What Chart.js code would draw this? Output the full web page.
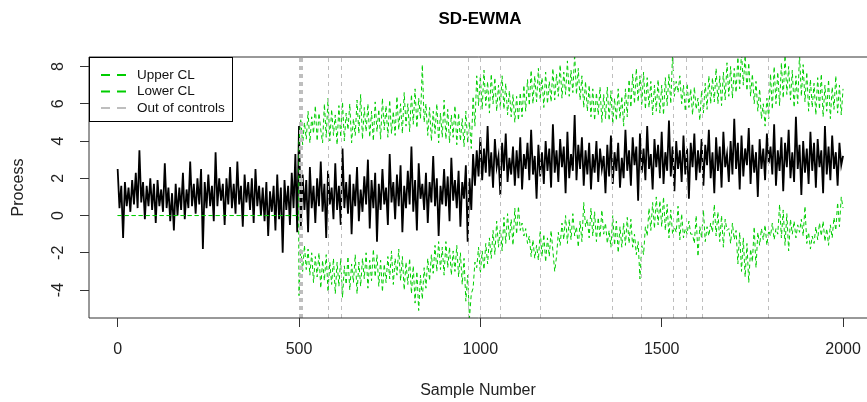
<!DOCTYPE html>
<html>
<head>
<meta charset="utf-8">
<script src="https://cdn.jsdelivr.net/npm/chart.js@4.4.1/dist/chart.umd.min.js"></script>
<style>
  html, body { margin: 0; padding: 0; background: #fff; }
  #wrap { width: 867px; height: 402px; }
</style>
</head>
<body>
<div id="wrap"><canvas id="grafica" width="867" height="402"></canvas></div>
<script>
// valores (una muestra de cada 5)
const sampleStep = 5;

// proceso, muestras 0..495
const procPhase1 = [
  2.5, 0.4, 1.6, -1.2, 1.8, 0.5, 1.5, 0.2, 1.9, 0.6, 2.3, 0.4, 3.5, 0.7, 1.8, -0.2, 1.6, 0.5, 2.0, 0.3,
  1.7, -0.4, 1.9, 0.5, 1.4, 0.2, 2.8, 0.4, 1.5, -0.3, 1.2, -0.8, 1.7, 0.0, 1.5, 0.3, 2.3, -0.2, 1.4, 0.4,
  2.9, 0.5, 1.7, 0.1, 2.0, 0.6, 2.5, -1.8, 1.8, 0.4, 2.2, 0.5, 1.6, -0.3, 3.4, 0.5, 2.0, 0.8, 1.7, -0.5,
  2.0, 0.6, 2.6, 0.4, 1.7, 0.1, 2.9, 0.6, 1.6, -0.6, 2.2, 0.7, 1.8, 0.3, 2.0, -0.4, 2.5, 0.5, 1.6, 0.0,
  1.5, -0.3, 1.8, -1.1, 1.3, 0.2, 1.6, -0.8, 2.2, -0.2, 1.5, -2.0, 1.9, 0.3, 1.6, -0.5, 2.3, 0.4, 3.3, -0.9
];
// proceso, muestras 500..995
const procPhase2 = [
  4.8, -0.6, 2.2, 0.3, 1.9, -0.9, 2.6, 0.4, 1.6, -0.4, 2.0, 0.5, 2.9, 0.2, 1.7, -1.2, 2.4, 0.6, 1.5, -0.2,
  2.8, 0.3, 1.6, -0.5, 3.6, 0.4, 1.8, 0.1, 2.2, -1.0, 1.7, 0.5, 2.6, -0.3, 1.4, 0.2, 2.1, 0.6, 3.0, -0.7,
  1.9, 0.4, 2.3, -1.4, 1.7, 0.3, 2.5, 0.6, 1.5, -0.5, 3.3, 0.7, 1.8, -0.2, 2.2, 0.5, 2.7, -0.9, 1.6, 0.4,
  2.4, 0.6, 3.7, 0.2, 1.9, -0.8, 2.8, 0.9, 1.7, 0.3, 2.3, -0.4, 1.8, 0.7, 3.2, 0.5, 2.0, -1.1, 1.6, 0.6,
  2.5, 0.5, 2.1, -0.3, 3.1, 0.8, 1.9, 0.4, 2.4, -0.6, 1.8, 0.9, 2.7, -1.4, 2.0, 0.3, 3.3, 1.6, 3.5, 2.1
];
// proceso, muestras 1000..2000
const procPhase3 = [
  4.2, 1.9, 3.6, 2.3, 4.8, 2.1, 3.4, 1.5, 4.1, 2.6, 3.2, 1.1, 3.9, 2.4, 4.4, 1.8, 3.1, 2.2, 3.7, 1.6,
  3.5, 2.0, 4.2, 1.4, 3.3, 2.5, 3.9, 1.9, 4.6, 2.2, 3.2, 0.9, 3.8, 2.1, 3.4, 1.7, 4.0, 2.4, 3.6, 1.5,
  4.9, 2.3, 3.5, 1.8, 4.1, 2.6, 3.7, 1.2, 4.5, 2.0, 3.3, 2.4, 5.4, 1.9, 3.8, 2.5, 4.2, 1.6, 3.5, 2.2,
  3.9, 1.4, 3.3, 2.3, 4.0, 1.8, 3.6, 2.5, 3.2, 1.2, 3.8, 2.1, 4.3, 1.7, 3.4, 2.4, 3.9, 1.5, 3.1, 2.0,
  4.6, 2.4, 3.5, 1.6, 4.2, 2.7, 3.7, 0.8, 4.4, 2.3, 3.6, 1.9, 4.8, 2.5, 3.3, 1.4, 4.1, 2.6, 3.8, 2.0,
  4.5, 1.7, 3.4, 2.4, 5.1, 2.1, 3.7, 1.3, 4.0, 2.5, 3.5, 1.8, 4.3, 2.2, 3.6, 0.9, 3.9, 2.6, 4.4, 1.9,
  3.5, 2.3, 4.1, 1.6, 3.8, 2.7, 4.6, 2.0, 3.4, 1.2, 4.2, 2.4, 3.7, 1.5, 4.5, 2.6, 3.3, 1.8, 4.0, 2.2,
  5.2, 2.5, 3.9, 1.4, 4.3, 2.1, 3.6, 2.7, 4.7, 1.7, 3.8, 2.3, 3.4, 1.0, 4.1, 2.5, 3.6, 1.9, 4.4, 2.8,
  3.7, 2.2, 4.9, 1.6, 3.5, 2.4, 4.2, 1.3, 3.9, 2.6, 4.6, 2.0, 3.4, 1.8, 5.3, 2.5, 3.8, 1.1, 4.0, 2.3,
  3.6, 1.7, 4.5, 2.4, 3.9, 1.5, 4.1, 2.6, 3.5, 1.2, 4.8, 2.2, 3.7, 1.9, 4.3, 2.5, 3.4, 1.6, 3.9, 2.7,
  3.2
];

// limites antes del cambio (muestras 0 y 499)
const baselineCL = [0, 0];
// limite superior, muestras 500..995
const upperCL1 = [
  4.0, 5.2, 3.8, 5.0, 4.1, 5.6, 3.9, 5.3, 4.4, 5.9, 4.0, 5.5, 4.6, 3.9, 6.0, 4.2, 6.3, 4.0, 5.7, 4.3,
  5.4, 3.8, 5.9, 4.2, 6.1, 4.0, 5.5, 4.6, 6.0, 3.9, 5.2, 4.3, 6.2, 4.4, 6.5, 4.1, 5.8, 4.5, 6.0, 4.2,
  5.6, 4.0, 6.1, 4.5, 5.7, 4.1, 6.3, 4.6, 5.9, 4.2, 6.2, 4.4, 5.6, 4.3, 6.4, 4.6, 6.0, 4.4, 6.6, 4.8,
  6.0, 4.5, 6.5, 4.9, 6.8, 4.7, 6.3, 5.2, 8.1, 5.0, 6.0, 4.3, 5.8, 4.0, 5.6, 4.4, 6.0, 3.9, 5.5, 4.2,
  6.2, 4.1, 5.7, 3.9, 5.4, 4.2, 5.9, 3.8, 5.5, 4.0, 5.2, 3.7, 5.6, 3.9, 5.0, 3.6, 6.4, 4.8, 7.5, 5.9
];
// limite superior, muestras 1000..2000
const upperCL2 = [
  7.5, 5.7, 7.8, 5.9, 7.2, 5.5, 7.6, 6.0, 7.4, 5.6, 7.0, 5.8, 7.5, 5.7, 7.1, 5.4, 6.7, 5.3, 6.5, 5.0,
  6.4, 5.1, 6.6, 5.3, 7.0, 5.6, 7.3, 5.9, 7.8, 6.0, 7.5, 6.1, 7.9, 6.2, 7.4, 5.8, 7.7, 6.0, 7.2, 6.1,
  7.9, 6.2, 7.6, 6.4, 8.1, 6.3, 7.7, 6.5, 8.3, 6.4, 7.8, 6.6, 8.7, 6.5, 7.9, 6.2, 7.5, 5.8, 7.2, 5.6,
  7.0, 5.3, 6.8, 5.1, 6.6, 5.4, 6.9, 5.0, 6.5, 5.2, 6.9, 5.1, 6.7, 4.9, 6.3, 5.1, 6.8, 5.2, 6.4, 4.8,
  6.8, 5.3, 7.3, 5.8, 7.6, 6.0, 7.9, 6.1, 7.5, 5.9, 7.7, 5.7, 7.4, 5.8, 7.2, 5.4, 7.0, 5.6, 7.3, 5.5,
  7.0, 5.4, 7.4, 5.9, 7.6, 6.0, 8.7, 6.4, 7.2, 6.6, 7.5, 6.0, 7.0, 5.6, 7.1, 5.8, 6.8, 5.4, 6.9, 5.7,
  6.3, 5.1, 6.7, 5.5, 7.1, 5.7, 7.5, 6.0, 7.4, 6.1, 7.9, 6.0, 7.5, 5.9, 7.7, 6.2, 8.2, 6.4, 8.0, 6.3,
  7.9, 6.6, 8.5, 6.8, 8.8, 7.0, 8.6, 6.7, 8.2, 6.4, 7.6, 6.0, 7.2, 5.6, 6.8, 5.2, 6.0, 4.8, 6.3, 5.2,
  7.6, 5.7, 8.0, 6.0, 7.7, 5.9, 8.2, 6.3, 8.6, 6.5, 8.0, 6.2, 7.8, 5.8, 7.5, 6.0, 8.7, 6.4, 8.1, 6.1,
  7.7, 5.6, 7.3, 5.8, 7.1, 5.4, 7.4, 5.7, 7.6, 5.3, 7.0, 5.6, 7.3, 5.2, 6.9, 5.7, 7.5, 5.5, 7.0, 5.4,
  6.8
];
// limite inferior, muestras 500..995
const lowerCL1 = [
  -4.3, -1.8, -3.0, -1.6, -2.9, -1.8, -3.2, -2.0, -3.6, -2.2, -3.3, -2.0, -3.9, -2.4, -3.5, -2.1, -4.1, -2.5, -3.7, -2.3,
  -4.2, -2.5, -3.8, -2.3, -4.4, -2.7, -3.7, -2.2, -4.0, -2.6, -3.6, -2.1, -4.2, -2.5, -3.8, -2.3, -3.4, -2.0, -3.9, -2.4,
  -3.5, -1.8, -3.3, -2.1, -3.8, -2.4, -4.1, -2.6, -3.6, -2.2, -3.4, -1.9, -3.7, -2.3, -3.2, -1.8, -3.5, -2.2, -4.0, -2.5,
  -3.7, -2.3, -4.2, -2.7, -4.7, -3.0, -5.1, -3.2, -4.5, -2.8, -3.9, -2.3, -3.5, -2.1, -3.1, -1.6, -3.0, -1.4, -2.9, -1.7,
  -3.2, -1.4, -2.8, -1.7, -3.2, -1.9, -3.0, -1.6, -3.3, -2.0, -3.7, -2.3, -4.6, -3.2, -5.5, -4.2, -3.9, -2.5, -2.8, -1.7
];
// limite inferior, muestras 1000..2000
const lowerCL2 = [
  -3.1, -1.9, -2.9, -1.5, -2.6, -1.2, -2.3, -0.8, -2.1, -0.3, -1.7, -0.6, -1.9, -0.1, -1.5, 0.1, -1.3, -0.2, -1.6, 0.4,
  -1.0, 0.5, -0.8, -0.4, -1.1, -0.7, -1.5, -1.1, -2.2, -1.3, -2.3, -1.6, -2.4, -0.8, -2.2, -1.0, -2.5, -1.2, -2.2, -0.8,
  -1.9, -3.0, -2.2, -0.9, -1.6, -0.4, -1.3, 0.0, -1.5, -0.2, -1.3, 0.1, -1.1, -0.6, -1.7, -0.3, -1.4, 0.7, -0.6, -0.2,
  -1.2, 0.4, -1.1, 0.2, -1.4, -0.1, -1.2, 0.3, -1.0, -0.4, -1.5, -0.8, -1.7, 0.0, -1.6, -0.3, -2.0, -0.6, -1.7, -0.4,
  -1.6, -0.1, -1.5, -0.2, -1.7, -1.0, -2.1, -1.4, -3.4, -1.6, -2.1, -0.6, -1.1, 0.4, -0.8, 0.7, -0.7, 1.0, -0.5, 0.8,
  -0.6, 1.0, -0.8, 0.6, -1.2, 0.3, -1.0, -0.6, -0.9, 0.5, -1.3, 0.1, -1.2, -0.7, -1.0, -0.3, -1.0, -1.0, -1.5, 0.0,
  -2.2, -0.6, -1.2, 0.3, -1.4, -0.6, -1.1, -0.4, -0.9, 0.6, -1.1, 0.2, -1.4, 0.0, -1.7, -0.2, -0.8, -0.7, -1.5, -0.4,
  -1.3, -0.8, -2.6, -0.9, -3.0, -1.2, -3.3, -1.5, -3.6, -1.8, -2.5, -0.6, -2.8, -0.9, -1.6, -0.7, -1.3, -0.5, -1.6, -0.8,
  -1.1, -0.4, -1.3, -0.7, -1.0, 0.6, -1.2, 0.3, -1.6, 0.1, -1.9, -0.2, -1.0, -0.3, -1.2, -0.5, -0.9, -0.2, -1.1, 0.5,
  -1.5, -0.9, -1.8, -1.1, -1.5, -0.6, -1.3, -0.4, -1.1, -0.3, -1.4, -0.7, -1.6, -0.5, -1.2, -0.1, -0.8, 0.7, -0.6, 1.0,
  0.4
];

// muestras fuera de control
const outOfControl = [501, 503, 505, 507, 579, 617, 966, 1000, 1055, 1165, 1364, 1443, 1532, 1567, 1611, 1793];

const xTicks = [0, 500, 1000, 1500, 2000];
const yTicks = [-4, -2, 0, 2, 4, 6, 8];

const colorCL = '#00cd00';
const colorOOC = '#bebebe';
const fuente = "'Liberation Sans', Arial, sans-serif";

function aPuntos(valores, inicio, paso) {
  return valores.map((v, i) => ({ x: inicio + i * paso, y: v }));
}

const puntosProceso = [
  ...aPuntos(procPhase1, 0, sampleStep),
  ...aPuntos(procPhase2, 500, sampleStep),
  ...aPuntos(procPhase3, 1000, sampleStep)
];
const puntosUpper = [
  ...aPuntos(baselineCL, 0, 499),
  ...aPuntos(upperCL1, 500, sampleStep),
  ...aPuntos(upperCL2, 1000, sampleStep)
];
const puntosLower = [
  ...aPuntos(baselineCL, 0, 499),
  ...aPuntos(lowerCL1, 500, sampleStep),
  ...aPuntos(lowerCL2, 1000, sampleStep)
];

// marco, lineas fuera de control, etiquetas del eje y, titulo y leyenda al estilo R
const estiloR = {
  id: 'estiloR',
  afterDatasetsDraw(chart) {
    const { ctx, chartArea: a, scales: { x } } = chart;
    ctx.save();
    ctx.beginPath();
    ctx.rect(a.left, a.top, a.right - a.left, a.bottom - a.top);
    ctx.clip();
    ctx.strokeStyle = colorOOC;
    ctx.lineWidth = 1;
    ctx.setLineDash([4, 4]);
    outOfControl.forEach(c => {
      const px = Math.round(x.getPixelForValue(c)) + 0.5;
      ctx.beginPath();
      ctx.moveTo(px, a.bottom);
      ctx.lineTo(px, a.top);
      ctx.stroke();
    });
    ctx.restore();
  },
  afterDraw(chart) {
    const { ctx, chartArea: a, scales: { y } } = chart;
    ctx.save();

    // marco (el borde derecho queda fuera de la imagen)
    ctx.strokeStyle = '#333';
    ctx.lineWidth = 1;
    ctx.beginPath();
    ctx.moveTo(a.right + 5, a.top);
    ctx.lineTo(a.left, a.top);
    ctx.lineTo(a.left, a.bottom);
    ctx.lineTo(a.right + 5, a.bottom);
    ctx.stroke();

    // etiquetas del eje y giradas
    ctx.fillStyle = '#222';
    ctx.font = '16px ' + fuente;
    ctx.textAlign = 'center';
    ctx.textBaseline = 'middle';
    yTicks.forEach(v => {
      ctx.save();
      ctx.translate(59, y.getPixelForValue(v));
      ctx.rotate(-Math.PI / 2);
      ctx.fillText(String(v), 0, 0);
      ctx.restore();
    });

    // titulo centrado sobre el area de trazado
    ctx.fillStyle = '#000';
    ctx.font = 'bold 17px ' + fuente;
    ctx.fillText('SD-EWMA', 480, 19);

    // leyenda
    const lx = a.left, ly = a.top, lw = 144, lh = 65;
    ctx.fillStyle = '#fff';
    ctx.fillRect(lx, ly, lw, lh);
    ctx.strokeStyle = '#000';
    ctx.strokeRect(lx + 0.5, ly + 0.5, lw - 1, lh - 1);
    const items = [['Upper CL', colorCL], ['Lower CL', colorCL], ['Out of controls', colorOOC]];
    ctx.font = '13.5px ' + fuente;
    ctx.textAlign = 'left';
    items.forEach(([txt, col], i) => {
      const ry = ly + 18 + i * 16.5;
      ctx.strokeStyle = col;
      ctx.lineWidth = 2;
      ctx.setLineDash([9, 7]);
      ctx.beginPath();
      ctx.moveTo(lx + 12, ry);
      ctx.lineTo(lx + 38, ry);
      ctx.stroke();
      ctx.setLineDash([]);
      ctx.fillStyle = '#111';
      ctx.fillText(txt, lx + 48, ry);
    });
    ctx.restore();
  }
};

const ctx = document.getElementById('grafica').getContext('2d');
new Chart(ctx, {
  type: 'line',
  data: {
    datasets: [
      {
        label: 'Upper CL',
        data: puntosUpper,
        borderColor: colorCL,
        borderWidth: 1,
        borderDash: [4, 3],
        pointRadius: 0,
        tension: 0
      },
      {
        label: 'Lower CL',
        data: puntosLower,
        borderColor: colorCL,
        borderWidth: 1,
        borderDash: [4, 3],
        pointRadius: 0,
        tension: 0
      },
      {
        label: 'Process',
        data: puntosProceso,
        borderColor: '#000',
        borderWidth: 1.8,
        pointRadius: 0,
        tension: 0
      }
    ]
  },
  options: {
    responsive: false,
    animation: false,
    events: [],
    layout: { autoPadding: false, padding: { top: 57, right: 0, left: 0, bottom: 0 } },
    plugins: {
      legend: { display: false },
      tooltip: { enabled: false },
      title: { display: false }
    },
    scales: {
      x: {
        type: 'linear',
        min: -79,
        max: 2066,
        afterBuildTicks: s => { s.ticks = xTicks.map(v => ({ value: v })); },
        afterFit: s => { s.height = 84; s.paddingLeft = 0; s.paddingRight = 0; },
        border: { display: false },
        grid: { drawOnChartArea: false, drawTicks: true, tickLength: 9, color: '#333' },
        ticks: {
          padding: 13,
          color: '#222',
          maxRotation: 0,
          font: { family: fuente, size: 16 },
          callback: v => String(v)
        },
        title: {
          display: true,
          text: 'Sample Number',
          color: '#222',
          padding: { top: 0, bottom: 2 },
          font: { family: fuente, size: 16 }
        }
      },
      y: {
        type: 'linear',
        min: -5.5,
        max: 8.51,
        afterBuildTicks: s => { s.ticks = yTicks.map(v => ({ value: v })); },
        afterFit: s => { s.width = 89; s.paddingTop = 0; s.paddingBottom = 0; },
        border: { display: false },
        grid: { drawOnChartArea: false, drawTicks: true, tickLength: 9, color: '#333' },
        ticks: { display: false },
        title: {
          display: true,
          text: 'Process',
          color: '#222',
          padding: { top: 9, bottom: 0 },
          font: { family: fuente, size: 16 }
        }
      }
    }
  },
  plugins: [estiloR]
});
</script>
</body>
</html>
